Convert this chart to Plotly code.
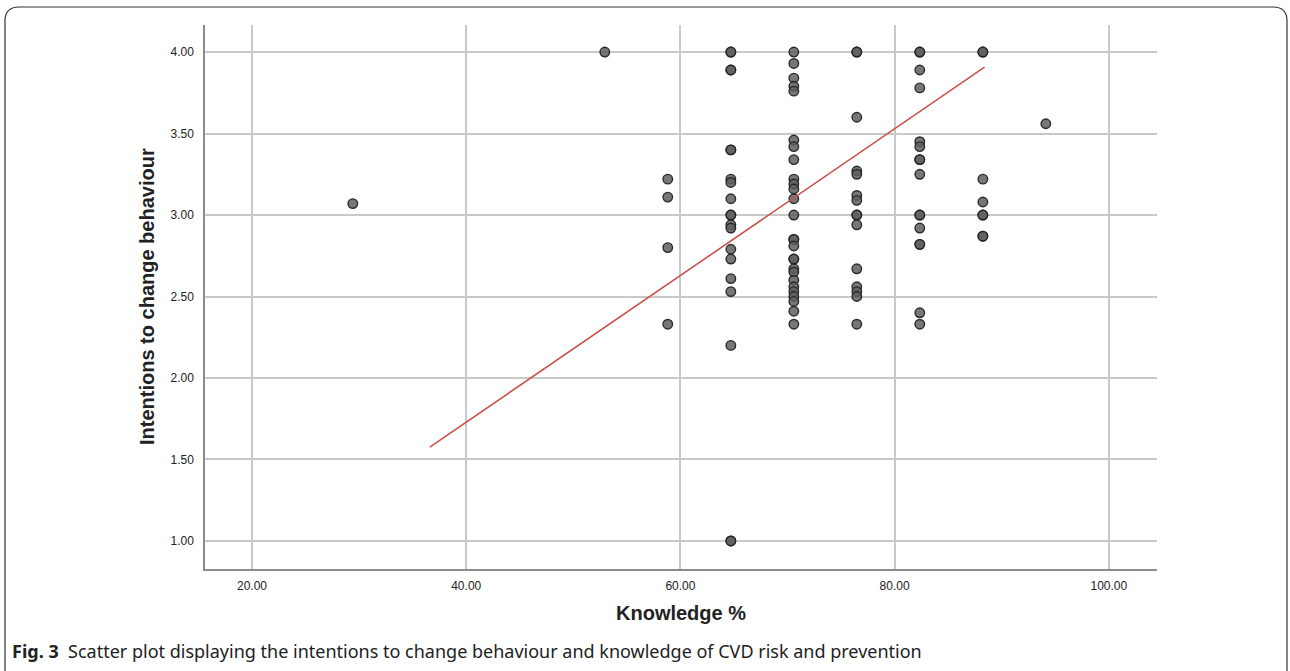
import plotly.graph_objects as go

# Knowledge score (%) per respondent group and their intention scores
knowledge_levels = [29.41, 52.94, 58.82, 64.71, 70.59, 76.47, 82.35, 88.24, 94.12]

intentions_by_level = [
    [3.07],
    [4.00],
    [3.22, 3.11, 2.80, 2.33],
    [4.00, 4.00, 3.89, 3.89, 3.40, 3.40, 3.22, 3.20, 3.10, 3.00, 3.00, 2.94, 2.92,
     2.79, 2.73, 2.61, 2.53, 2.20, 1.00, 1.00],
    [4.00, 3.93, 3.84, 3.79, 3.76, 3.46, 3.42, 3.34, 3.22, 3.19, 3.16, 3.10, 3.00,
     2.85, 2.85, 2.81, 2.73, 2.73, 2.67, 2.65, 2.60, 2.56, 2.53, 2.50, 2.47, 2.41, 2.33],
    [4.00, 4.00, 3.60, 3.27, 3.25, 3.12, 3.09, 3.00, 3.00, 2.94, 2.67, 2.56, 2.53,
     2.50, 2.33],
    [4.00, 4.00, 3.89, 3.78, 3.45, 3.42, 3.34, 3.34, 3.25, 3.00, 3.00, 2.92, 2.82,
     2.82, 2.40, 2.33],
    [4.00, 4.00, 3.22, 3.08, 3.00, 3.00, 2.87, 2.87],
    [3.56],
]

# Linear fit: intentions = intercept + slope * knowledge
fit_intercept = -0.071
fit_slope = 0.0450
fit_x = [36.6, 88.4]

x_ticks = [20, 40, 60, 80, 100]
x_tick_text = ["20.00", "40.00", "60.00", "80.00", "100.00"]
y_ticks = [1.0, 1.5, 2.0, 2.5, 3.0, 3.5, 4.0]
y_tick_text = ["1.00", "1.50", "2.00", "2.50", "3.00", "3.50", "4.00"]

W, H = 1290, 671

xs, ys = [], []
for k, vals in zip(knowledge_levels, intentions_by_level):
    for v in vals:
        xs.append(k)
        ys.append(v)

fit_y = [fit_intercept + fit_slope * x for x in fit_x]


def px(x):
    return x / W


def py(y):
    return 1 - y / H


fig = go.Figure()
fig.add_trace(go.Scatter(
    x=xs, y=ys, mode="markers",
    marker=dict(size=9.5, color="rgba(95,95,95,0.85)",
                line=dict(color="rgba(35,35,35,0.95)", width=1.4)),
    hoverinfo="x+y", showlegend=False,
))
fig.add_trace(go.Scatter(
    x=fit_x, y=fit_y, mode="lines",
    line=dict(color="#c9504b", width=1.6),
    showlegend=False,
))

grid = "#c9c9c9"
axis_line = "#8c8c8c"
fig.update_layout(
    width=W, height=H,
    margin=dict(l=0, r=0, t=0, b=0),
    paper_bgcolor="white", plot_bgcolor="white",
    font=dict(family="Liberation Sans, Arial, sans-serif", color="#222"),
    xaxis=dict(
        domain=[px(205), px(1157)], range=[15.61, 104.5],
        tickvals=x_ticks, ticktext=x_tick_text,
        showgrid=True, gridcolor=grid, gridwidth=1.5,
        showline=True, linecolor=axis_line, linewidth=1.5,
        zeroline=False, ticks="", ticklabelstandoff=5,
        tickfont=dict(size=12, color="#222"),
    ),
    yaxis=dict(
        domain=[py(569), py(25)], range=[0.828, 4.166],
        tickvals=y_ticks, ticktext=y_tick_text,
        showgrid=True, gridcolor=grid, gridwidth=1.5,
        showline=True, linecolor=axis_line, linewidth=1.5,
        zeroline=False, ticks="", ticklabelstandoff=7,
        tickfont=dict(size=12, color="#222"),
    ),
)

# Axis titles
fig.add_annotation(x=px(681), y=py(613), xref="paper", yref="paper",
                   xanchor="center", yanchor="middle",
                   text="<b>Knowledge %</b>", showarrow=False,
                   font=dict(size=20, family="Liberation Sans, Arial, sans-serif", color="#222"))
fig.add_annotation(x=px(147), y=py(297), xref="paper", yref="paper",
                   xanchor="center", yanchor="middle",
                   text="<b>Intentions to change behaviour</b>", showarrow=False,
                   textangle=-90,
                   font=dict(size=20, family="Liberation Sans, Arial, sans-serif", color="#222"))

# Caption
fig.add_annotation(x=px(10), y=py(651), xref="paper", yref="paper",
                   xanchor="left", yanchor="middle",
                   text="<b>Fig. 3</b>  Scatter plot displaying the intentions to change behaviour and knowledge of CVD risk and prevention",
                   showarrow=False,
                   font=dict(size=18, family="Noto Sans, sans-serif", color="#222"))

# Rounded frame around the figure
x0, x1, yt, yb, r = 5, 1287, 7, 690, 14
path = (f"M {px(x0)},{py(yb)} L {px(x0)},{py(yt + r)} "
        f"Q {px(x0)},{py(yt)} {px(x0 + r)},{py(yt)} "
        f"L {px(x1 - r)},{py(yt)} Q {px(x1)},{py(yt)} {px(x1)},{py(yt + r)} "
        f"L {px(x1)},{py(yb)}")
fig.add_shape(type="path", path=path, xref="paper", yref="paper",
              line=dict(color="#333", width=1.2))

fig.write_html("out.html")
